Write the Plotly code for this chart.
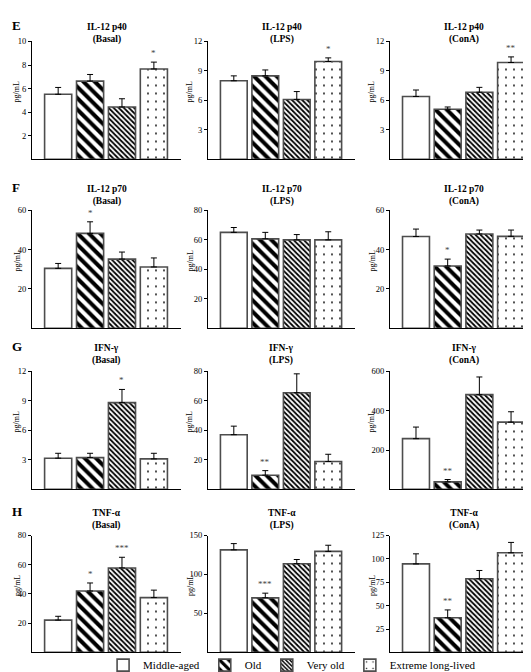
import plotly.graph_objects as go

W, H = 531, 672

groups = ["Middle-aged", "Old", "Very old", "Extreme long-lived"]

# Panel titles (row-major: E, F, G, H rows; Basal, LPS, ConA columns)
titles = [
    "IL-12 p40<br>(Basal)", "IL-12 p40<br>(LPS)", "IL-12 p40<br>(ConA)",
    "IL-12 p70<br>(Basal)", "IL-12 p70<br>(LPS)", "IL-12 p70<br>(ConA)",
    "IFN-γ<br>(Basal)", "IFN-γ<br>(LPS)", "IFN-γ<br>(ConA)",
    "TNF-α<br>(Basal)", "TNF-α<br>(LPS)", "TNF-α<br>(ConA)",
]
row_letters = ["E", "F", "G", "H"]

# Means per panel (Middle-aged, Old, Very old, Extreme long-lived)
il12p40_basal = [5.52, 6.64, 4.44, 7.67]
il12p40_lps = [8.0, 8.5, 6.1, 9.96]
il12p40_cona = [6.4, 5.1, 6.83, 9.86]
il12p70_basal = [30.5, 48.3, 35.2, 31.2]
il12p70_lps = [65.1, 60.7, 60.0, 60.0]
il12p70_cona = [46.7, 31.7, 48.0, 46.8]
ifng_basal = [3.17, 3.23, 8.83, 3.1]
ifng_lps = [37.1, 9.6, 65.6, 18.9]
ifng_cona = [258, 38, 482, 342]
tnfa_basal = [22.1, 42.0, 57.8, 37.5]
tnfa_lps = [131.6, 70.0, 113.8, 129.6]
tnfa_cona = [94.6, 37.0, 78.8, 106.5]

# Upper error (SEM)
il12p40_basal_err = [0.58, 0.56, 0.7, 0.58]
il12p40_lps_err = [0.5, 0.6, 0.8, 0.37]
il12p40_cona_err = [0.66, 0.23, 0.5, 0.57]
il12p70_basal_err = [2.5, 5.9, 3.6, 4.6]
il12p70_lps_err = [3.3, 4.4, 3.6, 5.5]
il12p70_cona_err = [3.8, 3.5, 2.0, 3.2]
ifng_basal_err = [0.5, 0.44, 1.34, 0.57]
ifng_lps_err = [5.8, 3.1, 12.8, 4.9]
ifng_cona_err = [59, 12, 90, 53]
tnfa_basal_err = [2.6, 5.5, 7.3, 5.1]
tnfa_lps_err = [8.0, 6.0, 5.4, 7.9]
tnfa_cona_err = [10.8, 8.4, 8.8, 11.1]

# Significance marks
il12p40_basal_sig = ["", "", "", "*"]
il12p40_lps_sig = ["", "", "", "*"]
il12p40_cona_sig = ["", "", "", "**"]
il12p70_basal_sig = ["", "*", "", ""]
il12p70_lps_sig = ["", "", "", ""]
il12p70_cona_sig = ["", "*", "", ""]
ifng_basal_sig = ["", "", "*", ""]
ifng_lps_sig = ["", "**", "", ""]
ifng_cona_sig = ["", "**", "", ""]
tnfa_basal_sig = ["", "*", "***", ""]
tnfa_lps_sig = ["", "***", "", ""]
tnfa_cona_sig = ["", "**", "", ""]

# Y-axis ranges and ticks
ranges = [10, 12, 12, 60, 80, 60, 12, 80, 600, 80, 150, 125]
ticks = [
    [2, 4, 6, 8, 10], [3, 6, 9, 12], [3, 6, 9, 12],
    [20, 40, 60], [20, 40, 60, 80], [20, 40, 60],
    [3, 6, 9, 12], [20, 40, 60, 80], [200, 400, 600],
    [20, 40, 60, 80], [50, 100, 150], [25, 50, 75, 100, 125],
]

means = [il12p40_basal, il12p40_lps, il12p40_cona, il12p70_basal, il12p70_lps, il12p70_cona,
         ifng_basal, ifng_lps, ifng_cona, tnfa_basal, tnfa_lps, tnfa_cona]
errs = [il12p40_basal_err, il12p40_lps_err, il12p40_cona_err, il12p70_basal_err, il12p70_lps_err,
        il12p70_cona_err, ifng_basal_err, ifng_lps_err, ifng_cona_err, tnfa_basal_err,
        tnfa_lps_err, tnfa_cona_err]
sigs = [il12p40_basal_sig, il12p40_lps_sig, il12p40_cona_sig, il12p70_basal_sig, il12p70_lps_sig,
        il12p70_cona_sig, ifng_basal_sig, ifng_lps_sig, ifng_cona_sig, tnfa_basal_sig,
        tnfa_lps_sig, tnfa_cona_sig]

# Layout geometry in pixels
col_x = [(24, 173), (200, 347), (382, 530)]
row_y = [(29, 149), (201, 321), (365, 485), (532, 651)]
title_y = [13, 178, 340, 508]

patterns = [
    dict(shape=""),
    dict(shape="\\", size=8, solidity=0.5, fgcolor="black", bgcolor="white", fgopacity=1),
    dict(shape="\\", size=3.6, solidity=0.5, fgcolor="black", bgcolor="white", fgopacity=1),
    dict(shape=".", size=8, solidity=0.04, fgcolor="black", bgcolor="white", fgopacity=1),
]

SERIF = "Liberation Serif"
fig = go.Figure()
annotations = []
layout_axes = {}

for p in range(12):
    r, c = divmod(p, 3)
    idx = p + 1
    xa = "x" if idx == 1 else f"x{idx}"
    ya = "y" if idx == 1 else f"y{idx}"
    for g in range(4):
        fig.add_trace(go.Bar(
            x=[g], y=[means[p][g]], width=0.85,
            name=groups[g], legendgroup=groups[g], showlegend=(p == 0),
            marker=dict(color="white", pattern=patterns[g],
                        line=dict(color="#4d4d4d", width=1.6)),
            error_y=dict(type="data", symmetric=False, array=[errs[p][g]],
                         arrayminus=[0], color="black", thickness=1, width=3),
            xaxis=xa, yaxis=ya,
        ))
        if sigs[p][g]:
            annotations.append(dict(
                x=g, y=means[p][g] + errs[p][g], xref=xa, yref=ya,
                text=sigs[p][g], showarrow=False, xanchor="center", yanchor="bottom", yshift=2,
                font=dict(family=SERIF, size=9, color="#444444"),
            ))
    x0, x1 = col_x[c]
    y0, y1 = row_y[r]
    xs = "xaxis" if idx == 1 else f"xaxis{idx}"
    ys = "yaxis" if idx == 1 else f"yaxis{idx}"
    layout_axes[xs] = dict(
        domain=[x0 / W, x1 / W], range=[-0.82, 3.85], showticklabels=False,
        showgrid=False, zeroline=False, showline=True, linecolor="black",
        linewidth=1, ticks="", anchor=ya, fixedrange=True,
    )
    layout_axes[ys] = dict(
        domain=[1 - y1 / H, 1 - y0 / H], range=[0, ranges[p]], tickvals=ticks[p],
        showgrid=False, zeroline=False, showline=True, linecolor="black",
        linewidth=1, ticks="outside", ticklen=3, tickcolor="black",
        tickfont=dict(family=SERIF, size=8.5, color="black"), anchor=xa,
    )
    # Panel title
    annotations.append(dict(
        x=(x0 + x1) / 2 / W, y=1 - (title_y[r] - 6) / H, xref="paper", yref="paper",
        text="<b>" + titles[p].replace("<br>", "</b><br><b>") + "</b>",
        showarrow=False, yanchor="top", xanchor="center",
        font=dict(family=SERIF, size=9.5, color="black"),
    ))
    # Y-axis title
    off = 15 if c == 0 else 18
    annotations.append(dict(
        x=(x0 - off) / W, y=1 - ((y0 + y1) / 2 - 8) / H, xref="paper", yref="paper",
        text="pg/mL", textangle=-90, showarrow=False, xanchor="center", yanchor="middle",
        font=dict(family=SERIF, size=8, color="black"),
    ))
    if c == 0:
        annotations.append(dict(
            x=2 / W, y=1 - title_y[r] / H, xref="paper", yref="paper",
            text="<b>" + row_letters[r] + "</b>", showarrow=False,
            xanchor="left", yanchor="middle",
            font=dict(family=SERIF, size=13, color="black"),
        ))

fig.update_layout(
    width=W, height=H, margin=dict(l=0, r=0, t=0, b=0),
    plot_bgcolor="white", paper_bgcolor="white",
    annotations=annotations,
    legend=dict(orientation="h", x=0.535, xanchor="center", y=1 - 664 / H, yanchor="middle",
                font=dict(family=SERIF, size=11, color="black"),
                itemwidth=30, traceorder="normal", bgcolor="rgba(0,0,0,0)"),
    **layout_axes,
)

fig.write_html("out.html")
